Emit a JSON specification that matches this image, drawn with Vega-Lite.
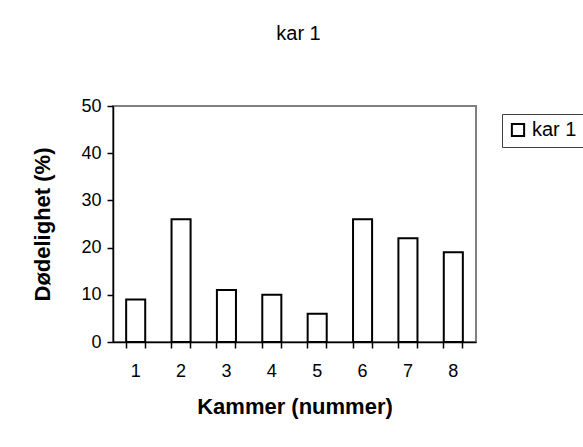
{
  "$schema": "https://vega.github.io/schema/vega-lite/v6.json",
  "width": 363,
  "height": 236,
  "autosize": {"type": "none"},
  "padding": {"left": 113, "top": 106, "right": 107, "bottom": 105},
  "background": "white",
  "config": {
    "font": "Liberation Sans",
    "view": {"stroke": "#808080", "strokeWidth": 2},
    "axis": {"grid": false, "domainColor": "black", "domainWidth": 1.5, "tickColor": "black", "tickWidth": 1.5, "labelColor": "black", "titleColor": "black", "labelFont": "Liberation Sans", "titleFont": "Liberation Sans"}
  },
  "title": {"text": "kar 1", "fontSize": 20, "fontWeight": "normal", "color": "black", "anchor": "middle", "frame": "group", "baseline": "bottom", "offset": 33, "dx": 4},
  "data": {"values": [
    {"kammer": "1", "dodelighet": 9, "serie": "kar 1"},
    {"kammer": "2", "dodelighet": 26, "serie": "kar 1"},
    {"kammer": "3", "dodelighet": 11, "serie": "kar 1"},
    {"kammer": "4", "dodelighet": 10, "serie": "kar 1"},
    {"kammer": "5", "dodelighet": 6, "serie": "kar 1"},
    {"kammer": "6", "dodelighet": 26, "serie": "kar 1"},
    {"kammer": "7", "dodelighet": 22, "serie": "kar 1"},
    {"kammer": "8", "dodelighet": 19, "serie": "kar 1"}
  ]},
  "layer": [
    {
      "mark": {"type": "bar", "stroke": "black", "strokeWidth": 2},
      "encoding": {
        "x": {"field": "kammer", "type": "ordinal", "sort": null,
              "scale": {"paddingInner": 0.58, "paddingOuter": 0.29},
              "axis": {"orient": "bottom", "title": "Kammer (nummer)", "labelAngle": 0, "ticks": false, "tickSize": 0, "labelPadding": 20, "labelFontSize": 18, "titleFontSize": 22, "titleFontWeight": "bold", "titlePadding": 16}},
        "y": {"field": "dodelighet", "type": "quantitative",
              "scale": {"domain": [0, 50], "nice": false},
              "axis": {"title": "Dødelighet (%)", "values": [0, 10, 20, 30, 40, 50], "tickSize": 6, "labelPadding": 6, "labelFontSize": 18, "titleFontSize": 22, "titleFontWeight": "bold", "titlePadding": 26}},
        "fill": {"field": "serie", "type": "nominal",
                 "scale": {"range": ["white"]},
                 "legend": {"title": null, "orient": "none", "legendX": 389, "legendY": 8, "strokeColor": "#404040", "fillColor": "white", "padding": 6, "symbolType": "square", "symbolSize": 150, "symbolStrokeColor": "black", "symbolStrokeWidth": 2, "symbolFillColor": "white", "labelFontSize": 20, "labelColor": "black", "labelFont": "Liberation Sans", "labelOffset": 4}}
      }
    },
    {
      "mark": {"type": "bar", "opacity": 0},
      "encoding": {
        "x": {"field": "kammer", "type": "ordinal", "sort": null,
              "axis": {"orient": "bottom", "title": null, "labels": false, "domain": false, "ticks": true, "tickSize": 6, "bandPosition": 0}},
        "y": {"field": "dodelighet", "type": "quantitative"}
      }
    },
    {
      "mark": {"type": "bar", "opacity": 0},
      "encoding": {
        "x": {"field": "kammer", "type": "ordinal", "sort": null,
              "axis": {"orient": "bottom", "title": null, "labels": false, "domain": false, "ticks": true, "tickSize": 6, "bandPosition": 1}},
        "y": {"field": "dodelighet", "type": "quantitative"}
      }
    }
  ],
  "resolve": {"axis": {"x": "independent"}}
}
